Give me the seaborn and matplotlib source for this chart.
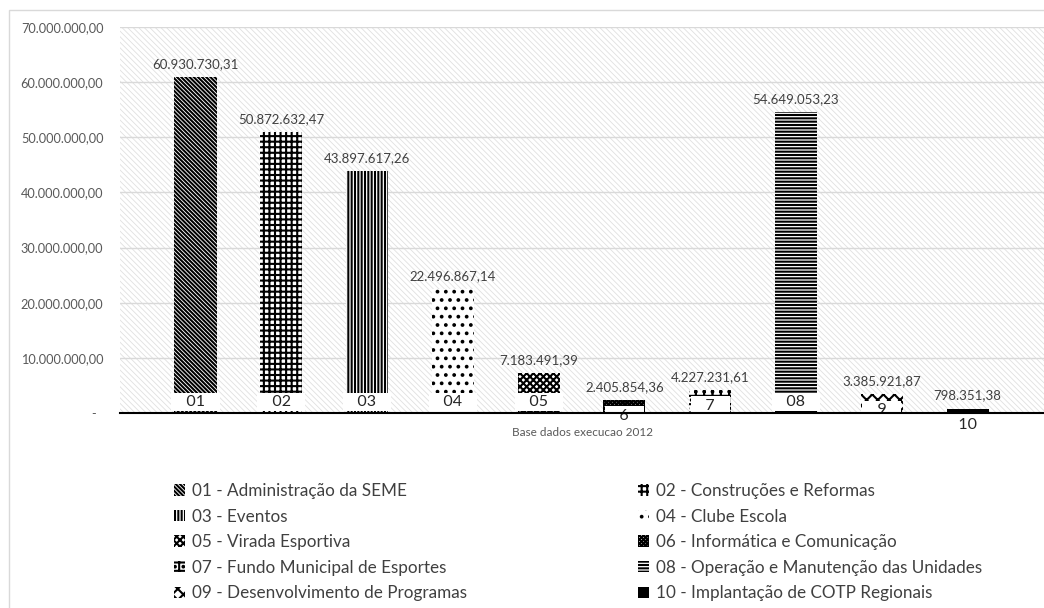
import matplotlib
matplotlib.use("Agg")
import matplotlib.pyplot as plt
from matplotlib.patches import Patch, Rectangle
import seaborn as sns
import pandas as pd

codes = ["01", "02", "03", "04", "05", "06", "07", "08", "09", "10"]
values = [60930730.31, 50872632.47, 43897617.26, 22496867.14, 7183491.39,
          2405854.36, 4227231.61, 54649053.23, 3385921.87, 798351.38]
base_labels = ["01", "02", "03", "04", "05", "6", "7", "08", "9", "10"]
legend_labels = [
    "01 - Administração da SEME",
    "02 - Construções e Reformas",
    "03 - Eventos",
    "04 - Clube Escola",
    "05 - Virada Esportiva",
    "06 - Informática e Comunicação",
    "07 - Fundo Municipal de Esportes",
    "08 - Operação e Manutenção das Unidades",
    "09 - Desenvolvimento de Programas",
    "10 - Implantação de COTP Regionais",
]
hatches = ["\\" * 8, "+++", "|||||", "..", "xxxxx",
           "xxxxxxxx", "++..", "-----", "xxx", ""]
faces = ["white"] * 9 + ["black"]
xlabel = "Base dados execucao 2012"

sns.set_style("white")
plt.rcParams["font.family"] = ["Lato", "DejaVu Sans"]
plt.rcParams["hatch.linewidth"] = 1.5

df = pd.DataFrame({"code": codes, "value": values})


def br(v):
    if v == 0:
        return "-  "
    s = f"{v:,.2f}"
    return s.replace(",", "#").replace(".", ",").replace("#", ".")


fig = plt.figure(figsize=(10.44, 6.08), dpi=100)
ax = fig.add_axes([120 / 1044, 1 - 413 / 608, 1 - 120 / 1044, (413 - 27) / 608])

bg = Rectangle((0, 0), 1, 1, transform=ax.transAxes, facecolor="white",
               edgecolor="#e0e0e0", hatch="\\" * 6, linewidth=0, zorder=0)
if hasattr(bg, "set_hatch_linewidth"):
    bg.set_hatch_linewidth(0.6)
ax.add_patch(bg)

sns.barplot(data=df, x="code", y="value", hue="code", palette=["white"] * 10,
            dodge=False, width=0.49, legend=False, ax=ax, zorder=2)

for i, cont in enumerate(ax.containers):
    for bar in cont:
        bar.set_hatch(hatches[i])
        bar.set_facecolor(faces[i])
        bar.set_edgecolor("black")
        bar.set_linewidth(0)
    ax.bar_label(cont, labels=[br(values[i])], padding=5, fontsize=9.5,
                 color="#404040")
    v = values[i]
    ax.text(i, min(2.0e6, v - 2.9e6), "   " + base_labels[i] + "   ",
            ha="center", va="center", fontsize=11.5, color="#262626",
            zorder=5, clip_on=False,
            bbox=dict(boxstyle="square,pad=0.15", facecolor="white",
                      edgecolor="none"))

ax.set_xlim(-0.88, 9.89)
ax.set_ylim(0, 70e6)
ax.set_yticks([i * 10e6 for i in range(8)])
ax.set_yticklabels([br(t) for t in ax.get_yticks()])
ax.tick_params(axis="y", length=0, pad=12, labelsize=9.2, labelcolor="#595959")
ax.set_xticks([])
ax.set_xlabel(xlabel, fontsize=8.5, color="#595959", labelpad=10)
ax.set_ylabel("")
ax.grid(axis="y", color="#d9d9d9", linewidth=1)
ax.set_axisbelow(True)
ax.set_facecolor("none")
sns.despine(ax=ax, left=True, right=True, top=True)
ax.spines["bottom"].set_color("black")
ax.spines["bottom"].set_linewidth(1.5)
ax.spines["bottom"].set_zorder(6)

handles = [Patch(facecolor=faces[i], edgecolor="black", hatch=hatches[i],
                 linewidth=0, label=legend_labels[i]) for i in range(10)]
left_h = handles[0::2]
right_h = handles[1::2]
leg_kw = dict(frameon=False, fontsize=12.3, handlelength=0.65, handleheight=0.65,
              handletextpad=0.4, labelspacing=0.56, borderpad=0,
              borderaxespad=0, labelcolor="#404040", loc="upper left")
fig.legend(handles=left_h, bbox_to_anchor=(174 / 1044, 1 - 483 / 608), **leg_kw)
fig.legend(handles=right_h, bbox_to_anchor=(638 / 1044, 1 - 483 / 608), **leg_kw)

fig.add_artist(Rectangle((9 / 1044, -0.1), 1.2, 1 - 10.5 / 608 + 0.1,
                         transform=fig.transFigure, fill=False,
                         edgecolor="#d9d9d9", linewidth=1))

fig.savefig("out.png", dpi=100)
